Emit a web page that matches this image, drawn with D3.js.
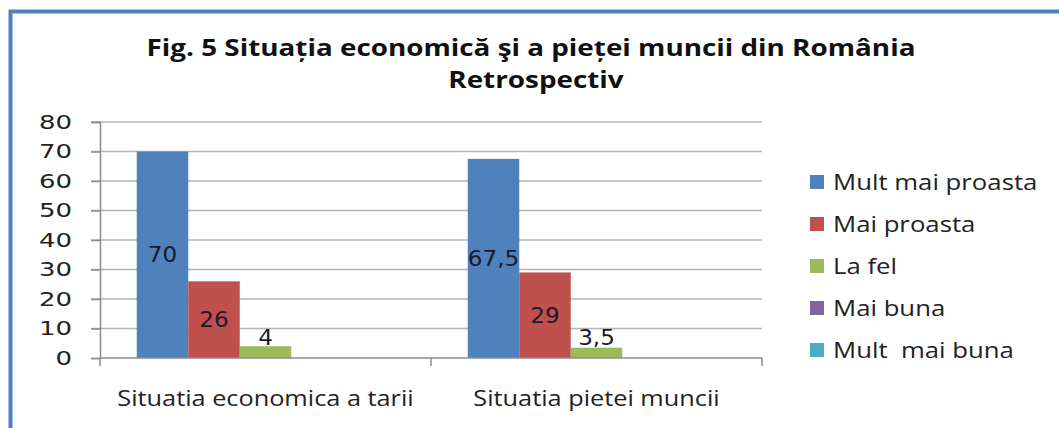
<!DOCTYPE html>
<html>
<head>
<meta charset="utf-8">
<script src="https://cdn.jsdelivr.net/npm/d3@7"></script>
<style>
  body { margin: 0; background: #fff; }
  svg { display: block; }
</style>
</head>
<body>
<script>
var categories = ['Situatia economica a tarii', 'Situatia pietei muncii'];
var seriesNames = ['Mult mai proasta', 'Mai proasta', 'La fel', 'Mai buna', 'Mult  mai buna'];
var seriesColors = ['#4f81bd', '#c0504d', '#9bbb59', '#8064a2', '#4bacc6'];
// one array per series, one value per category (null = no bar)
var multMaiProasta = [70, 67.5];
var maiProasta = [26, 29];
var laFel = [4, 3.5];
var maiBuna = [null, null];
var multMaiBuna = [null, null];
var yTicks = [0, 10, 20, 30, 40, 50, 60, 70, 80];
var titleLines = ['Fig. 5 Situația economică şi a pieței muncii din România', 'Retrospectiv'];

var seriesValues = [multMaiProasta, maiProasta, laFel, maiBuna, multMaiBuna];

var W = 1059, H = 428;
var plot = { left: 100, right: 762, top: 122, bottom: 358 };

// the source picture is stretched sideways, so text gets a horizontal scale
function placeText(sel, x, y, sx) {
  sel.attr('transform', function(d, i) {
    var px = typeof x === 'function' ? x(d, i) : x;
    var py = typeof y === 'function' ? y(d, i) : y;
    return 'translate(' + px + ',' + py + ') scale(' + sx + ',1)';
  });
}

var svg = d3.select('body').append('svg')
    .attr('width', W)
    .attr('height', H);

// outer frame
svg.append('rect')
    .attr('x', 10.5)
    .attr('y', 11.5)
    .attr('width', 1200)
    .attr('height', 600)
    .attr('fill', 'none')
    .attr('stroke', '#4f81bd')
    .attr('stroke-width', 4);

// title
svg.selectAll('text.title')
    .data(titleLines)
    .enter()
    .append('text')
    .attr('class', 'title')
    .attr('text-anchor', 'middle')
    .style('font-family', '"Open Sans", sans-serif')
    .style('font-weight', 'bold')
    .style('font-size', '24px')
    .attr('fill', '#111')
    .text(function(d) { return d; })
    .call(placeText, function(d, i) { return 531 + i * 5; }, function(d, i) { return 56 + i * 32; }, 1.16);

var x0 = d3.scaleBand()
    .domain(categories)
    .range([plot.left, plot.right])
    .paddingInner(0.222)
    .paddingOuter(0.111);

var x1 = d3.scaleBand()
    .domain(d3.range(seriesNames.length))
    .range([0, x0.bandwidth()]);

var y = d3.scaleLinear()
    .domain([0, 80])
    .range([plot.bottom, plot.top]);

// grid lines
svg.append('g')
    .selectAll('line')
    .data(yTicks.slice(1))
    .enter()
    .append('line')
    .attr('x1', plot.left - 9)
    .attr('x2', plot.right)
    .attr('y1', function(d) { return y(d); })
    .attr('y2', function(d) { return y(d); })
    .attr('stroke', '#b4b4b4')
    .attr('stroke-width', 1.5);

// y axis
var yAxis = svg.append('g')
    .attr('transform', 'translate(' + plot.left + ',0)')
    .call(d3.axisLeft(y).tickValues(yTicks).tickSize(9));
yAxis.select('.domain').attr('stroke', '#8c8c8c').attr('stroke-width', 1.5);
yAxis.selectAll('.tick line').attr('stroke', '#8c8c8c').attr('stroke-width', 1.5);
yAxis.selectAll('text')
    .attr('x', -28 / 1.3)
    .attr('transform', 'scale(1.3,1)')
    .style('font-family', '"DejaVu Sans", sans-serif')
    .style('font-size', '20px')
    .attr('fill', '#222');

// bars
var groups = svg.append('g')
    .selectAll('g')
    .data(categories)
    .enter()
    .append('g')
    .attr('transform', function(d) { return 'translate(' + x0(d) + ',0)'; });

var cells = groups.selectAll('rect')
    .data(function(d, ci) {
      return seriesValues.map(function(vals, si) { return { s: si, v: vals[ci] }; })
          .filter(function(e) { return e.v != null; });
    })
    .enter();

cells.append('rect')
    .attr('x', function(d) { return x1(d.s); })
    .attr('y', function(d) { return y(d.v); })
    .attr('width', x1.bandwidth())
    .attr('height', function(d) { return y(0) - y(d.v); })
    .attr('fill', function(d) { return seriesColors[d.s]; });

cells.append('text')
    .attr('dy', '0.36em')
    .attr('text-anchor', 'middle')
    .style('font-family', '"DejaVu Sans", sans-serif')
    .style('font-size', '21px')
    .attr('fill', '#1a1a2a')
    .text(function(d) { return String(d.v).replace('.', ','); })
    .call(placeText,
        function(d) { return x1(d.s) + x1.bandwidth() / 2; },
        function(d) { return Math.min((y(d.v) + y(0)) / 2, y(0) - 21); },
        1.1);

// x axis
var xAxis = svg.append('g')
    .attr('transform', 'translate(0,' + plot.bottom + ')');
xAxis.append('line')
    .attr('x1', plot.left)
    .attr('x2', plot.right)
    .attr('stroke', '#8c8c8c')
    .attr('stroke-width', 1.5);
var xTickPos = [plot.left].concat(categories.map(function(c) {
  return x0(c) + x0.bandwidth() + x0.step() * x0.paddingInner() / 2;
}));
xTickPos[xTickPos.length - 1] = plot.right;
xAxis.selectAll('line.tk')
    .data(xTickPos)
    .enter()
    .append('line')
    .attr('class', 'tk')
    .attr('x1', function(d) { return d; })
    .attr('x2', function(d) { return d; })
    .attr('y1', 0)
    .attr('y2', 8)
    .attr('stroke', '#8c8c8c')
    .attr('stroke-width', 1.5);
xAxis.selectAll('text')
    .data(categories)
    .enter()
    .append('text')
    .attr('dy', '0.35em')
    .attr('text-anchor', 'middle')
    .style('font-family', '"Open Sans", sans-serif')
    .style('font-size', '22px')
    .attr('fill', '#222')
    .text(function(d) { return d; })
    .call(placeText, function(d) { return x0(d) + x0.bandwidth() / 2; }, 40, 1.15);

// legend
var legend = svg.append('g')
    .selectAll('g')
    .data(seriesNames)
    .enter()
    .append('g')
    .attr('transform', function(d, i) { return 'translate(810,' + (182 + i * 42) + ')'; });
legend.append('rect')
    .attr('x', 0)
    .attr('y', -7)
    .attr('width', 14)
    .attr('height', 14)
    .attr('fill', function(d, i) { return seriesColors[i]; });
legend.append('text')
    .attr('dy', '0.35em')
    .style('font-family', '"Open Sans", sans-serif')
    .style('font-size', '22px')
    .style('white-space', 'pre')
    .attr('fill', '#222')
    .text(function(d) { return d; })
    .call(placeText, 23, 0, 1.17);
</script>
</body>
</html>
